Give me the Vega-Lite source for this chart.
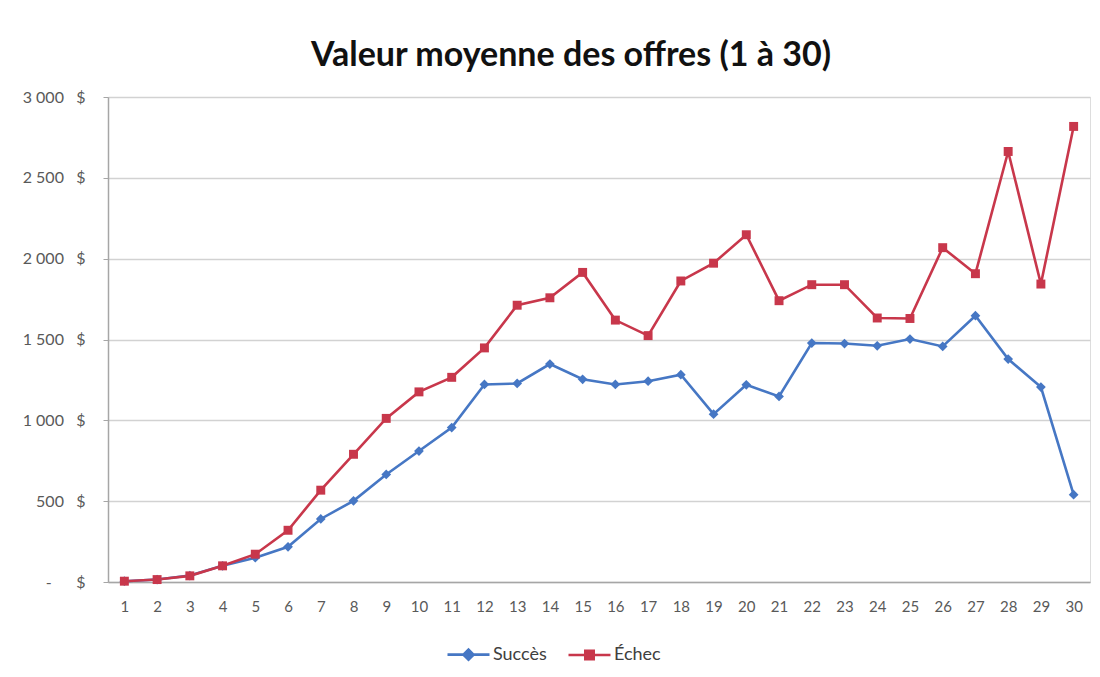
{
  "$schema": "https://vega.github.io/schema/vega-lite/v6.json",
  "width": 982,
  "height": 485,
  "autosize": {"type": "none"},
  "padding": {"left": 108, "top": 97, "right": 10, "bottom": 95},
  "background": "white",
  "title": {
    "text": "Valeur moyenne des offres (1 à 30)",
    "anchor": "middle",
    "frame": "group",
    "dx": -28,
    "offset": 16,
    "font": "Lato",
    "fontSize": 34,
    "fontWeight": "bold",
    "color": "#111111"
  },
  "data": {
    "values": [
      {"n": 1, "serie": "Succès", "v": 5}, {"n": 1, "serie": "Échec", "v": 5},
      {"n": 2, "serie": "Succès", "v": 15}, {"n": 2, "serie": "Échec", "v": 15},
      {"n": 3, "serie": "Succès", "v": 40}, {"n": 3, "serie": "Échec", "v": 38},
      {"n": 4, "serie": "Succès", "v": 100}, {"n": 4, "serie": "Échec", "v": 100},
      {"n": 5, "serie": "Succès", "v": 150}, {"n": 5, "serie": "Échec", "v": 172},
      {"n": 6, "serie": "Succès", "v": 218}, {"n": 6, "serie": "Échec", "v": 320},
      {"n": 7, "serie": "Succès", "v": 390}, {"n": 7, "serie": "Échec", "v": 568},
      {"n": 8, "serie": "Succès", "v": 502}, {"n": 8, "serie": "Échec", "v": 790},
      {"n": 9, "serie": "Succès", "v": 665}, {"n": 9, "serie": "Échec", "v": 1012},
      {"n": 10, "serie": "Succès", "v": 810}, {"n": 10, "serie": "Échec", "v": 1176},
      {"n": 11, "serie": "Succès", "v": 955}, {"n": 11, "serie": "Échec", "v": 1266},
      {"n": 12, "serie": "Succès", "v": 1222}, {"n": 12, "serie": "Échec", "v": 1448},
      {"n": 13, "serie": "Succès", "v": 1228}, {"n": 13, "serie": "Échec", "v": 1712},
      {"n": 14, "serie": "Succès", "v": 1348}, {"n": 14, "serie": "Échec", "v": 1758},
      {"n": 15, "serie": "Succès", "v": 1254}, {"n": 15, "serie": "Échec", "v": 1915},
      {"n": 16, "serie": "Succès", "v": 1222}, {"n": 16, "serie": "Échec", "v": 1620},
      {"n": 17, "serie": "Succès", "v": 1242}, {"n": 17, "serie": "Échec", "v": 1524},
      {"n": 18, "serie": "Succès", "v": 1282}, {"n": 18, "serie": "Échec", "v": 1862},
      {"n": 19, "serie": "Succès", "v": 1038}, {"n": 19, "serie": "Échec", "v": 1972},
      {"n": 20, "serie": "Succès", "v": 1220}, {"n": 20, "serie": "Échec", "v": 2148},
      {"n": 21, "serie": "Succès", "v": 1148}, {"n": 21, "serie": "Échec", "v": 1740},
      {"n": 22, "serie": "Succès", "v": 1478}, {"n": 22, "serie": "Échec", "v": 1839},
      {"n": 23, "serie": "Succès", "v": 1475}, {"n": 23, "serie": "Échec", "v": 1839},
      {"n": 24, "serie": "Succès", "v": 1461}, {"n": 24, "serie": "Échec", "v": 1633},
      {"n": 25, "serie": "Succès", "v": 1503}, {"n": 25, "serie": "Échec", "v": 1630},
      {"n": 26, "serie": "Succès", "v": 1457}, {"n": 26, "serie": "Échec", "v": 2068},
      {"n": 27, "serie": "Succès", "v": 1647}, {"n": 27, "serie": "Échec", "v": 1907},
      {"n": 28, "serie": "Succès", "v": 1379}, {"n": 28, "serie": "Échec", "v": 2663},
      {"n": 29, "serie": "Succès", "v": 1206}, {"n": 29, "serie": "Échec", "v": 1843},
      {"n": 30, "serie": "Succès", "v": 540}, {"n": 30, "serie": "Échec", "v": 2818}
    ]
  },
  "encoding": {
    "x": {
      "field": "n",
      "type": "ordinal",
      "sort": "ascending",
      "scale": {"type": "point", "padding": 0.5},
      "axis": {
        "title": null,
        "labelAngle": 0,
        "labelFont": "Lato",
        "labelFontSize": 15,
        "labelColor": "#595959",
        "labelPadding": 17,
        "ticks": false,
        "domainColor": "#a6a6a6",
        "domainWidth": 1.5,
        "grid": false
      }
    },
    "y": {
      "field": "v",
      "type": "quantitative",
      "scale": {"domain": [0, 3000], "nice": false},
      "axis": {
        "title": null,
        "values": [0, 500, 1000, 1500, 2000, 2500, 3000],
        "labelExpr": "datum.value === 0 ? '-\u00a0\u00a0\u00a0\u00a0\u00a0\u00a0$' : replace(format(datum.value, ','), ',', '\u00a0') + '\u00a0\u00a0\u00a0$'",
        "labelFont": "Lato",
        "labelFontSize": 16,
        "labelColor": "#595959",
        "labelPadding": 18,
        "tickSize": 5,
        "tickColor": "#a6a6a6",
        "domainColor": "#a6a6a6",
        "domainWidth": 1.5,
        "gridColor": "#d2d2d2",
        "gridWidth": 1.5
      }
    }
  },
  "layer": [
    {
      "mark": {"type": "line", "strokeWidth": 2.6},
      "encoding": {
        "color": {
          "field": "serie",
          "type": "nominal",
          "sort": ["Succès", "Échec"],
          "scale": {"domain": ["Succès", "Échec"], "range": ["#4677c4", "#c8374b"]},
          "legend": {
            "title": null,
            "orient": "none",
            "direction": "horizontal",
            "legendX": 338,
            "legendY": 535,
            "padding": 0,
            "labelFont": "Lato",
            "labelFontSize": 18,
            "labelColor": "#404040",
            "labelOffset": 2,
            "columnPadding": 16,
            "symbolSize": 1764,
            "symbolStrokeWidth": 2.6,
            "encode": {
              "symbols": {
                "update": {
                  "shape": {"signal": "datum.value === 'Succès' ? 'M-1,0L1,0M-0.24,0L0,-0.24L0.24,0L0,0.24Z' : 'M-1,0L1,0M-0.2,-0.2L0.2,-0.2L0.2,0.2L-0.2,0.2Z'"},
                  "fill": {"signal": "datum.value === 'Succès' ? '#4677c4' : '#c8374b'"},
                  "stroke": {"signal": "datum.value === 'Succès' ? '#4677c4' : '#c8374b'"},
                  "fillOpacity": {"value": 1},
                  "strokeWidth": {"value": 2.6}
                }
              }
            }
          }
        }
      }
    },
    {
      "transform": [{"filter": "datum.serie === 'Succès'"}],
      "mark": {"type": "point", "filled": true, "opacity": 1, "shape": "diamond", "size": 95, "color": "#4677c4"}
    },
    {
      "transform": [{"filter": "datum.serie === 'Échec'"}],
      "mark": {"type": "point", "filled": true, "opacity": 1, "shape": "square", "size": 80, "color": "#c8374b"}
    }
  ]
}
